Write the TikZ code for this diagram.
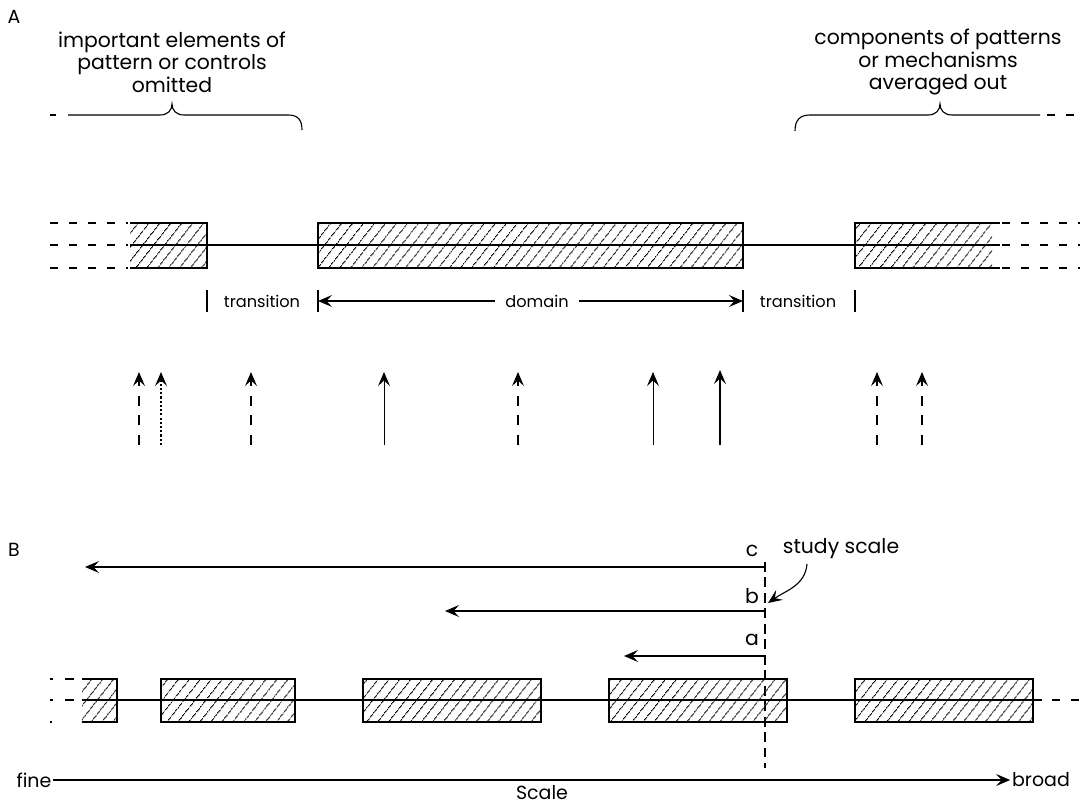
\documentclass[tikz,border=0pt]{standalone}
\usepackage{fontspec}
\setmainfont{Poppins}
\usetikzlibrary{arrows.meta,patterns.meta}

\begin{document}
\begin{tikzpicture}[x=0.025cm, y=-0.025cm, line width=0.8pt,
  lbl/.style={font=\fontsize{14.5}{16}\selectfont, inner sep=1pt, align=center},
  small/.style={font=\fontsize{11.5}{14}\selectfont, inner sep=1pt},
  axis/.style={font=\fontsize{13.5}{15}\selectfont, inner sep=1pt},
  hatch/.style={pattern={Lines[angle=52,distance=6.5pt,line width=0.75pt]}},
  cont/.style={dash pattern=on 5.5pt off 8pt},
  arr/.style={-{Stealth[length=10pt,width=8.5pt,inset=4pt]}},
  dasharr/.style={arr, dash pattern=on 7pt off 7pt},
  dotarr/.style={arr, dash pattern=on 1.5pt off 1.5pt},
  thinarr/.style={arr, line width=0.5pt},
  studyline/.style={dash pattern=on 7pt off 4pt}
]
\useasboundingbox (0,0) rectangle (1085,806);

% panel A
\node[axis] (pa) at (14,17) {A};
\node[lbl] (omit) at (172,62) {important elements of\\pattern or controls\\omitted};
\node[lbl] (avg) at (938,62) {components of patterns\\or mechanisms\\averaged out};

\draw (50,115) -- (56,115);
\draw (68,115) -- (160,115) .. controls (168,115) and (172,110) .. (172,104)
  .. controls (172,110) and (176,115) .. (184,115) -- (288,115)
  .. controls (298,115) and (302,120) .. (302,130);
\draw (795,131) .. controls (795,120) and (800,115) .. (810,115) -- (928,115)
  .. controls (936,115) and (940,110) .. (940,104)
  .. controls (940,110) and (944,115) .. (952,115) -- (1040,115);
\draw[cont] (1047,115) -- (1085,115);

\draw[cont] (50,223) -- (128,223);
\draw[cont] (50,245) -- (128,245);
\draw[cont] (50,268) -- (128,268);
\draw[cont] (1002,223) -- (1080,223);
\draw[cont] (1002,245) -- (1080,245);
\draw[cont] (1002,268) -- (1080,268);

\fill[hatch] (130,223) rectangle (207,268);
\draw (130,223) -- (207,223) -- (207,268) -- (130,268);
\fill[hatch] (318,223) rectangle (743,268);
\draw (318,223) rectangle (743,268);
\fill[hatch] (855,223) rectangle (992,268);
\draw (1000,223) -- (855,223) -- (855,268) -- (1000,268);
\draw (130,245) -- (1000,245);

\node[small] (tl) at (262,301) {transition};
\node[small] (dom) at (537,301) {domain};
\node[small] (tr) at (798,301) {transition};
\draw (207,290) -- (207,312);
\draw (318,290) -- (318,312);
\draw (743,290) -- (743,312);
\draw (855,290) -- (855,312);
\draw[arr] (dom.west) ++(-8,0) -- (318,301);
\draw[arr] (dom.east) ++(8,0) -- (743,301);

\draw[dasharr] (139,445) -- (139,372);
\draw[dotarr] (161,445) -- (161,372);
\draw[dasharr] (251,445) -- (251,372);
\draw[thinarr] (384,445) -- (384,372);
\draw[dasharr] (518,445) -- (518,372);
\draw[thinarr] (653,445) -- (653,372);
\draw[arr] (720,445) -- (720,370);
\draw[dasharr] (877,445) -- (877,372);
\draw[dasharr] (922,445) -- (922,372);

% panel B
\node[axis] (pb) at (14,550) {B};
\node[lbl] (study) at (841,549) {study scale};
\node[lbl] (lc) at (752,551) {c};
\node[lbl] (lb) at (752,596) {b};
\node[lbl] (la) at (752,640) {a};
\coordinate (sc) at (765,567);
\coordinate (sb) at (765,611);
\coordinate (sa) at (765,656);
\coordinate (sstart) at (807,564);
\coordinate (stip) at (768,603);

\draw[studyline] (765,562) -- (765,768);
\draw[arr] (sc) -- (85,567);
\draw[arr] (sb) -- (445,611);
\draw[arr] (sa) -- (624,656);
\draw[arr] (sstart) to[out=-95,in=35] (stip);

\draw[dash pattern=on 2pt off 9pt on 6pt off 20pt] (50,679) -- (80,679);
\draw[dash pattern=on 2pt off 9pt on 6pt off 20pt] (50,700) -- (80,700);
\draw (50,722) -- (52,722);

\fill[hatch] (82,679) rectangle (117,722);
\draw (82,679) -- (117,679) -- (117,722) -- (82,722);
\fill[hatch] (161,679) rectangle (295,722);
\draw (161,679) rectangle (295,722);
\fill[hatch] (363,679) rectangle (541,722);
\draw (363,679) rectangle (541,722);
\fill[hatch] (609,679) rectangle (787,722);
\draw (609,679) rectangle (787,722);
\fill[hatch] (855,679) rectangle (1033,722);
\draw (855,679) rectangle (1033,722);
\draw (82,700) -- (1042,700);
\draw[cont] (1052,700) -- (1085,700);

\node[axis] (fine) at (34,780) {fine};
\node[axis] (broad) at (1041,780) {broad};
\node[axis, anchor=base, inner sep=0pt] (scale) at (542,799) {Scale};
\draw[arr] (fine) -- (broad);
\end{tikzpicture}
\end{document}
